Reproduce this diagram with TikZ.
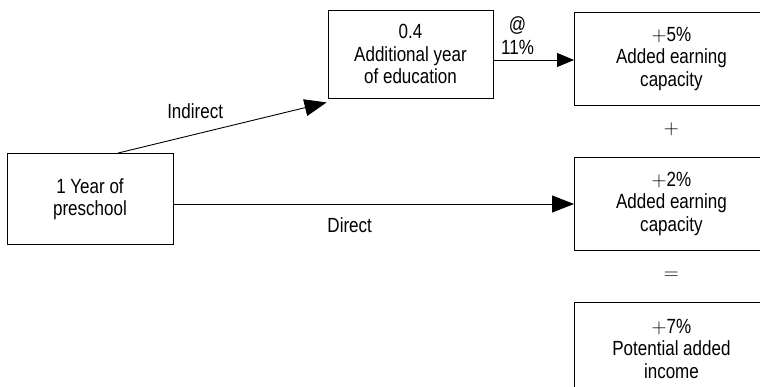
\documentclass[tikz,border=0pt]{standalone}
\usepackage{fontspec}
\setmainfont{Liberation Sans}[FakeStretch=0.83]
\usetikzlibrary{arrows.meta,positioning,calc}

\begin{document}
\begin{tikzpicture}[x=1pt,y=-1pt,>={Triangle[length=22pt,width=17pt]},line width=0.9pt,
                    font=\fontsize{20.5}{22.5}\selectfont,
                    box/.style={draw,align=center,inner sep=0pt},
                    wide/.style={minimum width=194pt,minimum height=93pt}]

                \useasboundingbox (0,0) rectangle (760,387);
                \clip (0,0) rectangle (760,387);

                \node[box,minimum width=166pt,minimum height=91pt] (preschool) at (90,199) {1 Year of\\preschool};

                \node[box,minimum width=165pt,minimum height=88pt] (addyear) at (410.5,54) {0.4\\Additional year\\of education};

                \node[box,wide,anchor=north west] (gainA) at (574,12) {$+$5\%\\Added earning\\capacity};

                \node[box,wide] (gainB) [below=51pt of gainA] {$+$2\%\\Added earning\\capacity};

                \node[box,wide] (gainC) [below=51pt of gainB] {$+$7\%\\Potential added\\income};

                \node (plus) at ($(gainA.south)!.45!(gainB.north)$) {$+$};

                \node (equals) at ($(gainB.south)!.5!(gainC.north)$) {$=$};

                

                \coordinate (directstart) at ([yshift=-5pt]preschool.east);

                \coordinate (ratestart) at ([yshift=-6pt]addyear.east);

                \path[->] ([xshift=28pt]preschool.north) edge node[pos=.37,above=12pt] {Indirect} ([shift={(-1pt,-4pt)}]addyear.south west)

                          (directstart) edge node[pos=.44,below=10pt] {Direct} (directstart -| gainB.west)

                          (ratestart) edge[>={Triangle[length=17pt,width=14pt]}] node[pos=.3,above=2pt,align=center] {@\\11\%} (ratestart -| gainA.west);

            \end{tikzpicture}
\end{document}
